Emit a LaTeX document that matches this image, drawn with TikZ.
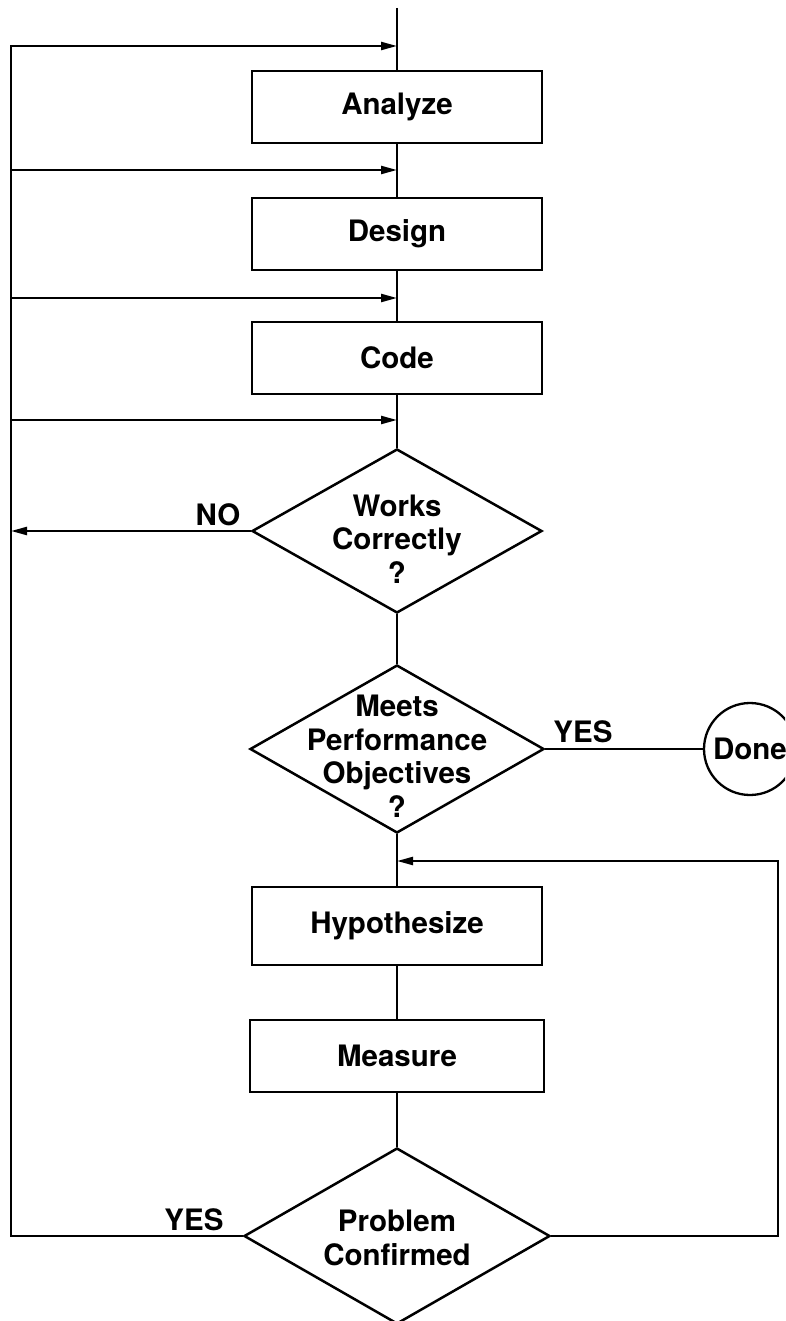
\documentclass[tikz,border=0pt]{standalone}
\usepackage{fontspec}
\setmainfont{TeX Gyre Heros}
\usetikzlibrary{shapes.geometric,arrows.meta}
\begin{document}
\begin{tikzpicture}[x=1pt,y=-1pt,
  line width=2.3pt,
  every node/.style={font=\bfseries\fontsize{29.5}{33.5}\selectfont, align=center},
  stepbox/.style={draw, line width=2.5pt, rectangle, minimum width=290pt, minimum height=72pt, inner sep=0pt},
  decision/.style={draw, line width=2.5pt, diamond, inner sep=0pt},
  endcircle/.style={draw, circle, line width=2.3pt, minimum size=92pt, inner sep=0pt},
  flow/.style={-{Triangle[length=16pt,width=8pt]}}
]
\useasboundingbox (0,0) rectangle (785,1321);
\clip (0,0) rectangle (785,1321);

% process steps
\node[stepbox] (analyze) at (397,107) {Analyze};
\node[stepbox] (design)  at (397,234) {Design};
\node[stepbox] (code)    at (397,358) {Code};
\node[stepbox, minimum height=78pt] (hyp) at (397,926) {Hypothesize};
\node[stepbox, minimum width=294pt] (meas) at (397,1056) {Measure};

% decisions (shapes and their texts)
\node[decision, minimum width=290pt, minimum height=164pt] (works) at (397,531) {};
\node (worksT) at (397,539) {Works\\Correctly\\?};
\node[decision, minimum width=294pt, minimum height=168pt] (meets) at (397,749) {};
\node (meetsT) at (397,756) {Meets\\Performance\\Objectives\\?};
\node[decision, minimum width=306pt, minimum height=176pt] (prob) at (397,1236) {};
\node (probT) at (397,1238) {Problem\\Confirmed};

% terminal
\node[endcircle] (done) at (750,749) {Done};

% main flow
\coordinate (top) at (397,8);
\draw (top) -- (analyze.north);
\draw (analyze.south) -- (design.north);
\draw (design.south) -- (code.north);
\draw (code.south) -- (works.north);
\draw (works.south) -- (meets.north);
\draw (meets.south) -- (hyp.north);
\draw (hyp.south) -- (meas.north);
\draw (meas.south) -- (prob.north);

% left return loop
\coordinate (Ltop) at (11,46);
\coordinate (L1) at (11,170);
\coordinate (L2) at (11,298);
\coordinate (L3) at (11,420);
\draw[flow] (prob.west) -| (Ltop) -- (Ltop -| analyze.north);
\draw[flow] (L1) -- (L1 -| design.north);
\draw[flow] (L2) -- (L2 -| code.north);
\draw[flow] (L3) -- (L3 -| works.north);
\draw[flow] (works.west) -- (works.west -| Ltop);

% exit and right return loop
\draw (meets.east) -- (done.west);
\coordinate (R) at (778,861);
\draw[flow] (prob.east) -| (R) -- (R -| meets.south);

% branch labels
\node (no) at (218,515) {NO};
\node (yes1) at (583,732) {YES};
\node (yes2) at (194,1220) {YES};
\end{tikzpicture}
\end{document}
